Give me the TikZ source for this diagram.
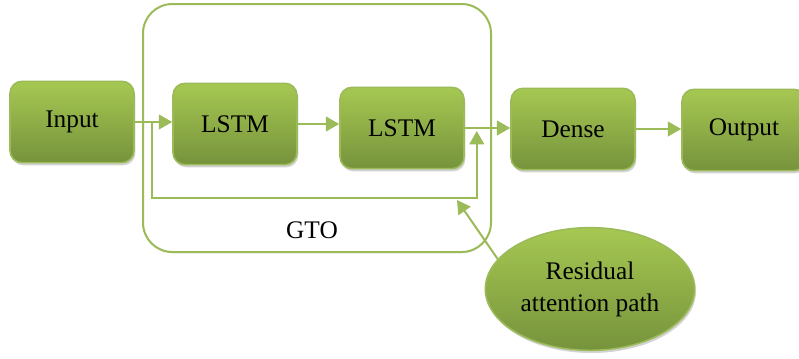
\documentclass[tikz,border=0pt]{standalone}
\usepackage{fontspec}
\setmainfont{Liberation Serif}
\usetikzlibrary{arrows.meta,positioning,calc,shadows,shapes.geometric}
\definecolor{greentop}{HTML}{A6C852}
\definecolor{greenbot}{HTML}{76933C}
\definecolor{greenline}{HTML}{9BBB59}

\begin{document}
\begin{tikzpicture}[x=0.75pt,y=-0.75pt,>={Triangle[length=10pt,width=11pt]},
  block/.style={draw=greenline,line width=1.2pt,rounded corners=9pt,top color=greentop,bottom color=greenbot,
    minimum width=93pt,minimum height=61pt,font=\fontsize{19}{22}\selectfont,
    drop shadow={opacity=0.35,shadow xshift=1pt,shadow yshift=-2pt}},
  link/.style={draw=greenline,line width=1.5pt}]
\useasboundingbox (0,0) rectangle (799,358);
\node[draw=greenline,line width=1.5pt,rounded corners=22pt,fill=white,minimum width=261pt,minimum height=186pt,
  drop shadow={opacity=0.15,shadow xshift=0pt,shadow yshift=-1pt}] (gto) at (317,128) {};
\node[font=\fontsize{19}{22}\selectfont] (gtolabel) at (312,230) {GTO};

\node[block] (input) at (72,122) {Input};
\node[block] (lstma) at (235,124) {LSTM};
\node[block] (lstmb) at (402,128) {LSTM};
\node[block] (dense) at (573,129) {Dense};
\node[block] (output) at (744,130) {Output};
\node[ellipse,draw=greenline,line width=1.2pt,top color=greentop,bottom color=greenbot,minimum width=157pt,minimum height=92pt,
  align=center,font=\fontsize{19}{24}\selectfont,drop shadow={opacity=0.35,shadow xshift=1pt,shadow yshift=-2pt}] (resid) at (590,289) {Residual\\attention path};

\draw[link,->] (input.east) -- (input.east -| lstma.west);
\draw[link,->] (lstma.east) -- (lstma.east -| lstmb.west);
\draw[link,->] (lstmb.east) -- (lstmb.east -| dense.west);
\draw[link,->] (dense.east) -- (dense.east -| output.west);
% residual path round the two LSTMs
\coordinate (split) at ($(input.east)!0.47!(input.east -| lstma.west)$);
\coordinate (rjoin) at ($(lstmb.east)+(12,3)$);
\coordinate (rcorner) at (rjoin |- 0,198);
\draw[link,->] (split) |- (rcorner) -- (rjoin);
\coordinate (rtarget) at (457,200);
\draw[link,->] (resid.162) -- (rtarget);
\end{tikzpicture}
\end{document}
